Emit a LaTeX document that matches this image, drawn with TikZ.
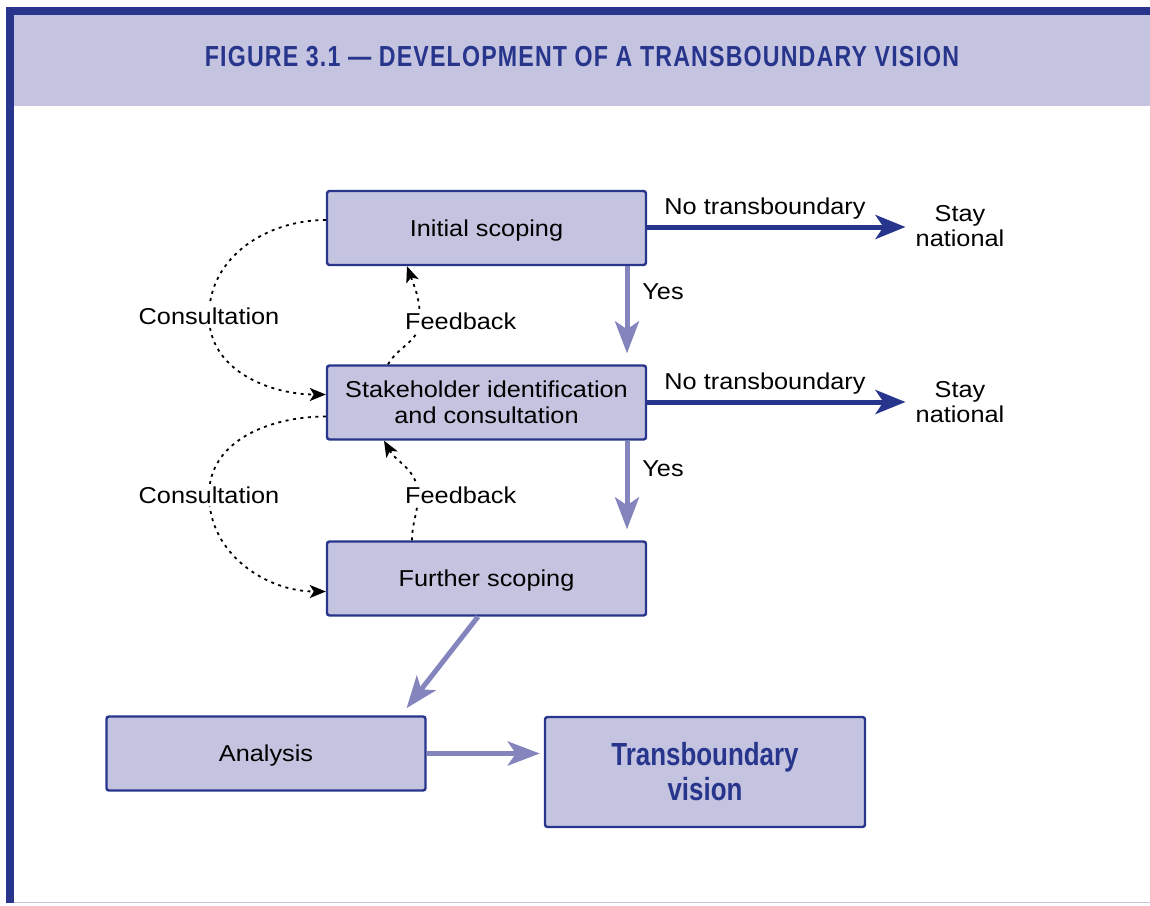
\documentclass[tikz,border=0pt]{standalone}
\usepackage{fontspec}
\setmainfont[FakeStretch=1.1]{Liberation Sans}
\newfontfamily\condbold[FakeStretch=0.8,LetterSpace=4]{Liberation Sans Bold}
\newfontfamily\condboldtv[FakeStretch=0.81]{Liberation Sans Bold}
\usetikzlibrary{arrows.meta}
\definecolor{dkblue}{HTML}{27358C}
\definecolor{lav}{HTML}{C4C4E0}
\definecolor{arr}{HTML}{8585BE}
\newcommand{\lowr}[1]{\raisebox{-2.5pt}[\height][\depth]{#1}}
\tikzset{
  box/.style={draw=dkblue, line width=2.4pt, fill=lav, rounded corners=2.5pt,
    minimum width=319pt, minimum height=74pt, align=center, inner sep=0pt,
    font=\fontsize{23}{26}\selectfont},
  lbl/.style={inner sep=0pt, align=center, font=\fontsize{23}{25.5}\selectfont},
  wlbl/.style={lbl, fill=white, inner sep=3pt},
  darrow/.style={draw=dkblue, line width=5pt, -{Stealth[length=30pt,width=24pt,inset=8pt]}},
  larrow/.style={draw=arr, line width=5pt, -{Stealth[length=32pt,width=24pt,inset=8pt]}},
  dotarr/.style={draw=black, line width=1.8pt, dash pattern=on 3pt off 4.5pt,
    -{Stealth[length=16pt,width=13pt,inset=4pt]}},
}
\begin{document}
\begin{tikzpicture}[x=1pt,y=-1pt]
\useasboundingbox (0,0) rectangle (1150,905);
% frame
\fill[lav] (14,15) rectangle (1150,106);
\fill[dkblue] (6,7) rectangle (1150,15);
\fill[dkblue] (6,7) rectangle (14,903);
\fill[lav] (14,901.5) rectangle (1150,903);
\node[font=\condbold\fontsize{29}{30}\selectfont, text=dkblue, inner sep=0pt] (title) at (582,57) {FIGURE 3.1 — DEVELOPMENT OF A TRANSBOUNDARY VISION};
% boxes
\node[box] (init) at (486.5,228) {\lowr{Initial scoping}};
\node[box] (stake) at (486.5,402.5) {\lowr{\begin{tabular}{@{}c@{}}Stakeholder identification\\and consultation\end{tabular}}};
\node[box] (further) at (486.5,578.5) {\lowr{Further scoping}};
\node[box] (anal) at (266,753.5) {\lowr{Analysis}};
\node[box, minimum width=320pt, minimum height=110pt, text=dkblue,
  font=\condboldtv\fontsize{32}{35}\selectfont] (tv) at (705,772) {Transboundary\\vision};
% stay national
\node[lbl] (stay1) at (960,226) {Stay\\national};
\node[lbl] (stay2) at (960,402) {Stay\\national};
\draw[darrow, shorten >=10pt] (init.east |- 0,227) -- (stay1.west |- 0,227);
\draw[darrow, shorten >=10pt] (stake.east |- 0,402) -- (stay2.west |- 0,402);
\node[lbl, anchor=base] (nt1) at (765,214) {No transboundary};
\node[lbl, anchor=base] (nt2) at (765,389) {No transboundary};
% yes arrows
\draw[larrow, shorten >=11pt] (init.south -| 627,0) -- (stake.north -| 627,0);
\draw[larrow, shorten >=11pt] (stake.south -| 627,0) -- (further.north -| 627,0);
\node[lbl] (yes1) at (663,292) {Yes};
\node[lbl] (yes2) at (663,469) {Yes};
% further -> analysis
\draw[larrow, shorten >=9pt] (further.south -| 478,0) -- (anal.north -| 401,0);
\draw[larrow, shorten >=4pt] (anal.east) -- (tv.west |- anal.east);
% dotted loops
\draw[dotarr] ([yshift=8pt]init.west) to[out=180,in=90] (209,316) to[out=-90,in=180] ([yshift=8pt]stake.west);
\draw[dotarr] ([yshift=-14pt]stake.west) to[out=180,in=90] (209,495) to[out=-90,in=180] ([yshift=-13pt]further.west);
\draw[dotarr] (stake.north -| 388,0) to[out=60,in=-90] (420,320) to[out=90,in=-70] (init.south -| 407,0);
\draw[dotarr] (further.north -| 412,0) to[out=90,in=-90] (418,495) to[out=90,in=-60] (stake.south -| 384,0);
\node[wlbl] (cons1) at (209,316) {Consultation};
\node[wlbl] (cons2) at (209,495) {Consultation};
\node[wlbl, anchor=west, inner xsep=1pt] (fb1) at (404,321) {Feedback};
\node[wlbl, anchor=west, inner xsep=1pt] (fb2) at (404,495) {Feedback};
\end{tikzpicture}
\end{document}
